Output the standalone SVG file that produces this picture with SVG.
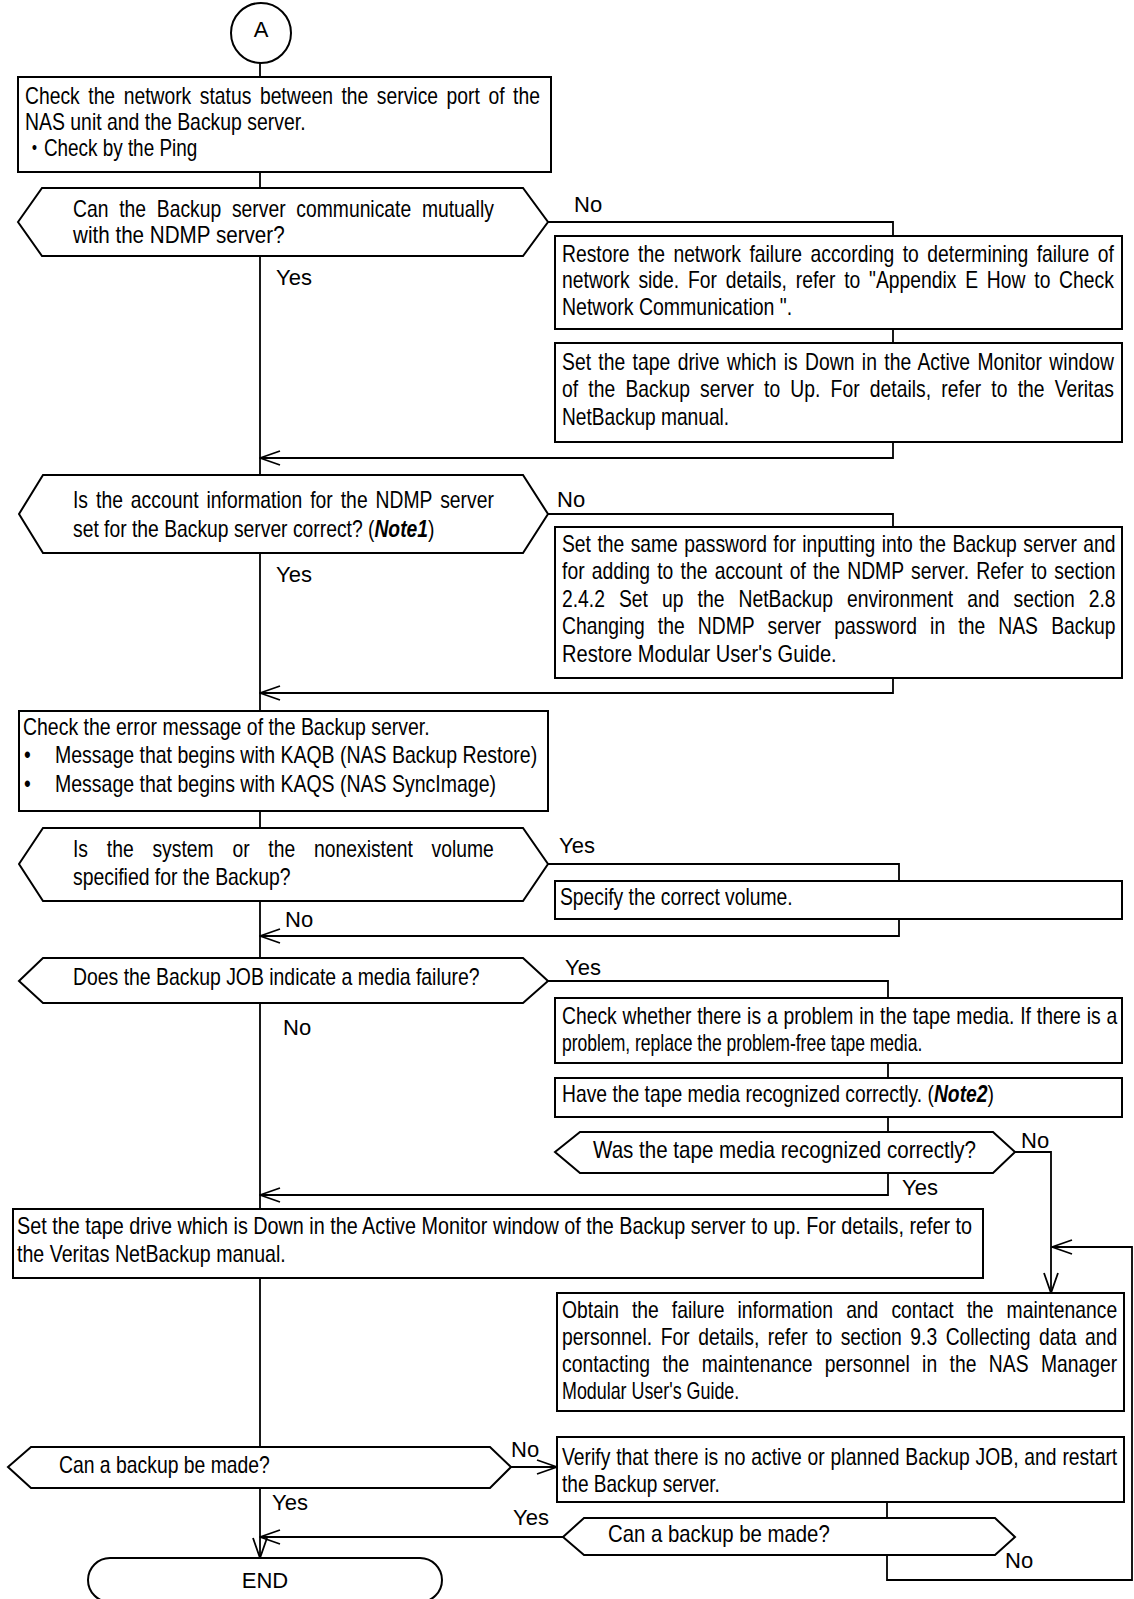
<svg xmlns="http://www.w3.org/2000/svg" width="1134" height="1599" viewBox="0 0 1134 1599">
<style>
.b{font-family:"Liberation Sans",Arial,"Noto Sans CJK JP",sans-serif;font-size:23px;fill:#000}
.l{font-family:"Liberation Sans",Arial,sans-serif;font-size:22px;fill:#000}
.s{fill:#fff;stroke:#000;stroke-width:2}
.c{fill:none;stroke:#000;stroke-width:1.8}
.bi{font-weight:bold;font-style:italic}
</style>
<defs>
<marker id="ah" viewBox="0 0 22 16" refX="21" refY="8" markerWidth="22" markerHeight="16" markerUnits="userSpaceOnUse" orient="auto">
<path d="M1,1 L21,8 L1,15" fill="none" stroke="#000" stroke-width="1.8"/>
</marker>
</defs>
<rect width="1134" height="1599" fill="#fff"/>

<g id="connectors">
<line class="c" x1="260" y1="63" x2="260" y2="77"/>
<line class="c" x1="260" y1="172" x2="260" y2="188"/>
<line class="c" x1="260" y1="256" x2="260" y2="475"/>
<polyline class="c" points="548,222 893,222 893,236"/>
<line class="c" x1="893" y1="329" x2="893" y2="343"/>
<polyline class="c" points="893,442 893,458 260,458" marker-end="url(#ah)"/>
<line class="c" x1="260" y1="553" x2="260" y2="711"/>
<polyline class="c" points="548,514 893,514 893,527"/>
<polyline class="c" points="893,678 893,693 260,693" marker-end="url(#ah)"/>
<line class="c" x1="260" y1="811" x2="260" y2="828"/>
<polyline class="c" points="548,864 899,864 899,881"/>
<polyline class="c" points="899,919 899,936 260,936" marker-end="url(#ah)"/>
<line class="c" x1="260" y1="901" x2="260" y2="958"/>
<polyline class="c" points="548,981 888,981 888,998"/>
<line class="c" x1="888" y1="1063" x2="888" y2="1078"/>
<line class="c" x1="888" y1="1117" x2="888" y2="1132"/>
<polyline class="c" points="1015,1152 1051,1152 1051,1293" marker-end="url(#ah)"/>
<polyline class="c" points="888,1173 888,1195 260,1195" marker-end="url(#ah)"/>
<line class="c" x1="260" y1="1003" x2="260" y2="1209"/>
<line class="c" x1="260" y1="1278" x2="260" y2="1447"/>
<line class="c" x1="511" y1="1467" x2="557" y2="1467" marker-end="url(#ah)"/>
<line class="c" x1="260" y1="1488" x2="260" y2="1558" marker-end="url(#ah)"/>
<line class="c" x1="887" y1="1502" x2="887" y2="1518"/>
<line class="c" x1="563" y1="1537" x2="260" y2="1537" marker-end="url(#ah)"/>
<polyline class="c" points="887,1555 887,1580 1132,1580 1132,1247 1052,1247" marker-end="url(#ah)"/>
</g>

<g id="labels">
<text class="l" x="574" y="212">No</text>
<text class="l" x="276" y="285">Yes</text>
<text class="l" x="557" y="507">No</text>
<text class="l" x="276" y="582">Yes</text>
<text class="l" x="559" y="853">Yes</text>
<text class="l" x="285" y="927">No</text>
<text class="l" x="565" y="975">Yes</text>
<text class="l" x="283" y="1035">No</text>
<text class="l" x="1021" y="1148">No</text>
<text class="l" x="902" y="1195">Yes</text>
<text class="l" x="511" y="1457">No</text>
<text class="l" x="272" y="1510">Yes</text>
<text class="l" x="513" y="1525">Yes</text>
<text class="l" x="1005" y="1568">No</text>
</g>

<g id="start">
<circle class="s" cx="261" cy="33" r="30"/>
<text class="l" x="261" y="37" text-anchor="middle">A</text>
</g>

<g id="box1">
<rect class="s" x="18" y="77" width="533" height="95"/>
<text class="b" transform="translate(25 104) scale(.84 1)" word-spacing="3.8" textLength="613" lengthAdjust="spacing">Check the network status between the service port of the</text>
<text class="b" transform="translate(25 130) scale(.84 1)" textLength="334" lengthAdjust="spacingAndGlyphs">NAS unit and the Backup server.</text>
<text class="b" transform="translate(25 156) scale(.84 1)" textLength="205" lengthAdjust="spacingAndGlyphs">・Check by the Ping</text>
</g>

<g id="dec1">
<polygon class="s" points="18,222 42,188 523,188 548,222 523,256 42,256"/>
<text class="b" transform="translate(73 217) scale(.84 1)" word-spacing="6.4" textLength="501" lengthAdjust="spacing">Can the Backup server communicate mutually</text>
<text class="b" transform="translate(73 243) scale(.84 1)" textLength="252" lengthAdjust="spacingAndGlyphs">with the NDMP server?</text>
</g>

<g id="box2">
<rect class="s" x="555" y="236" width="567" height="93"/>
<text class="b" transform="translate(562 262) scale(.84 1)" word-spacing="3.7" textLength="657" lengthAdjust="spacing">Restore the network failure according to determining failure of</text>
<text class="b" transform="translate(562 288) scale(.84 1)" word-spacing="4" textLength="657" lengthAdjust="spacing">network side. For details, refer to "Appendix E How to Check</text>
<text class="b" transform="translate(562 315) scale(.84 1)" textLength="274" lengthAdjust="spacingAndGlyphs">Network Communication ".</text>
</g>

<g id="box3">
<rect class="s" x="555" y="343" width="567" height="99"/>
<text class="b" transform="translate(562 370) scale(.84 1)" word-spacing="2.3" textLength="657" lengthAdjust="spacing">Set the tape drive which is Down in the Active Monitor window</text>
<text class="b" transform="translate(562 397) scale(.84 1)" word-spacing="5.7" textLength="657" lengthAdjust="spacing">of the Backup server to Up. For details, refer to the Veritas</text>
<text class="b" transform="translate(562 425) scale(.84 1)" textLength="199" lengthAdjust="spacingAndGlyphs">NetBackup manual.</text>
</g>

<g id="dec2">
<polygon class="s" points="19,514 43,475 523,475 548,514 523,553 43,553"/>
<text class="b" transform="translate(73 508) scale(.84 1)" word-spacing="3.1" textLength="501" lengthAdjust="spacing">Is the account information for the NDMP server</text>
<text class="b" transform="translate(73 537) scale(.84 1)">set for the Backup server correct? (<tspan class="bi">Note1</tspan>)</text>
</g>

<g id="box4">
<rect class="s" x="555" y="527" width="567" height="151"/>
<text class="b" transform="translate(562 552) scale(.84 1)" word-spacing="1.3" textLength="659" lengthAdjust="spacing">Set the same password for inputting into the Backup server and</text>
<text class="b" transform="translate(562 579) scale(.84 1)" word-spacing="2.2" textLength="659" lengthAdjust="spacing">for adding to the account of the NDMP server. Refer to section</text>
<text class="b" transform="translate(562 607) scale(.84 1)" word-spacing="10.4" textLength="659" lengthAdjust="spacing">2.4.2 Set up the NetBackup environment and section 2.8</text>
<text class="b" transform="translate(562 634) scale(.84 1)" word-spacing="9.3" textLength="659" lengthAdjust="spacing">Changing the NDMP server password in the NAS Backup</text>
<text class="b" transform="translate(562 662) scale(.84 1)" textLength="327" lengthAdjust="spacingAndGlyphs">Restore Modular User's Guide.</text>
</g>

<g id="box5">
<rect class="s" x="19" y="711" width="529" height="100"/>
<text class="b" transform="translate(23 735) scale(.84 1)" textLength="484" lengthAdjust="spacingAndGlyphs">Check the error message of the Backup server.</text>
<text class="b" transform="translate(24 763) scale(.84 1)">•</text>
<text class="b" transform="translate(55 763) scale(.84 1)" textLength="574" lengthAdjust="spacingAndGlyphs">Message that begins with KAQB (NAS Backup Restore)</text>
<text class="b" transform="translate(24 792) scale(.84 1)">•</text>
<text class="b" transform="translate(55 792) scale(.84 1)" textLength="525" lengthAdjust="spacingAndGlyphs">Message that begins with KAQS (NAS SyncImage)</text>
</g>

<g id="dec3">
<polygon class="s" points="19,864 43,828 523,828 548,864 523,901 43,901"/>
<text class="b" transform="translate(73 857) scale(.84 1)" word-spacing="16" textLength="501" lengthAdjust="spacing">Is the system or the nonexistent volume</text>
<text class="b" transform="translate(73 885) scale(.84 1)" textLength="259" lengthAdjust="spacingAndGlyphs">specified for the Backup?</text>
</g>

<g id="box6">
<rect class="s" x="555" y="881" width="567" height="38"/>
<text class="b" transform="translate(560 905) scale(.84 1)" textLength="277" lengthAdjust="spacingAndGlyphs">Specify the correct volume.</text>
</g>

<g id="dec4">
<polygon class="s" points="19,981 43,958 523,958 548,981 523,1003 43,1003"/>
<text class="b" transform="translate(73 985) scale(.84 1)" textLength="484" lengthAdjust="spacingAndGlyphs">Does the Backup JOB indicate a media failure?</text>
</g>

<g id="box7">
<rect class="s" x="555" y="998" width="567" height="65"/>
<text class="b" transform="translate(562 1024) scale(.84 1)" word-spacing="0.6" textLength="661" lengthAdjust="spacing">Check whether there is a problem in the tape media. If there is a</text>
<text class="b" transform="translate(562 1051) scale(.84 1)" textLength="429" lengthAdjust="spacingAndGlyphs">problem, replace the problem-free tape media.</text>
</g>

<g id="box8">
<rect class="s" x="555" y="1078" width="567" height="39"/>
<text class="b" transform="translate(562 1102) scale(.84 1)">Have the tape media recognized correctly. (<tspan class="bi">Note2</tspan>)</text>
</g>

<g id="dec5">
<polygon class="s" points="555,1152 580,1132 993,1132 1015,1152 993,1173 580,1173"/>
<text class="b" transform="translate(593 1158) scale(.84 1)" textLength="456" lengthAdjust="spacingAndGlyphs">Was the tape media recognized correctly?</text>
</g>

<g id="box9">
<rect class="s" x="13" y="1209" width="970" height="69"/>
<text class="b" transform="translate(17 1234) scale(.84 1)" textLength="1137" lengthAdjust="spacingAndGlyphs">Set the tape drive which is Down in the Active Monitor window of the Backup server to up. For details, refer to</text>
<text class="b" transform="translate(17 1262) scale(.84 1)" textLength="320" lengthAdjust="spacingAndGlyphs">the Veritas NetBackup manual.</text>
</g>

<g id="box10">
<rect class="s" x="557" y="1293" width="567" height="118"/>
<text class="b" transform="translate(562 1318) scale(.84 1)" word-spacing="9.1" textLength="661" lengthAdjust="spacing">Obtain the failure information and contact the maintenance</text>
<text class="b" transform="translate(562 1345) scale(.84 1)" word-spacing="3.7" textLength="661" lengthAdjust="spacing">personnel. For details, refer to section 9.3 Collecting data and</text>
<text class="b" transform="translate(562 1372) scale(.84 1)" word-spacing="8.4" textLength="661" lengthAdjust="spacing">contacting the maintenance personnel in the NAS Manager</text>
<text class="b" transform="translate(562 1399) scale(.84 1)" textLength="211" lengthAdjust="spacingAndGlyphs">Modular User's Guide.</text>
</g>

<g id="dec6">
<polygon class="s" points="8,1467 31,1447 490,1447 511,1467 490,1488 31,1488"/>
<text class="b" transform="translate(59 1473) scale(.84 1)" textLength="251" lengthAdjust="spacingAndGlyphs">Can a backup be made?</text>
</g>

<g id="box11">
<rect class="s" x="557" y="1437" width="567" height="65"/>
<text class="b" transform="translate(562 1465) scale(.84 1)" word-spacing="0.5" textLength="661" lengthAdjust="spacing">Verify that there is no active or planned Backup JOB, and restart</text>
<text class="b" transform="translate(562 1492) scale(.84 1)" textLength="188" lengthAdjust="spacingAndGlyphs">the Backup server.</text>
</g>

<g id="dec7">
<polygon class="s" points="563,1537 584,1518 995,1518 1015,1537 995,1555 584,1555"/>
<text class="b" transform="translate(608 1542) scale(.84 1)" textLength="264" lengthAdjust="spacingAndGlyphs">Can a backup be made?</text>
</g>

<g id="end">
<rect class="s" x="88" y="1558" width="354" height="44" rx="22" ry="22"/>
<text class="l" x="265" y="1588" text-anchor="middle">END</text>
</g>
</svg>
